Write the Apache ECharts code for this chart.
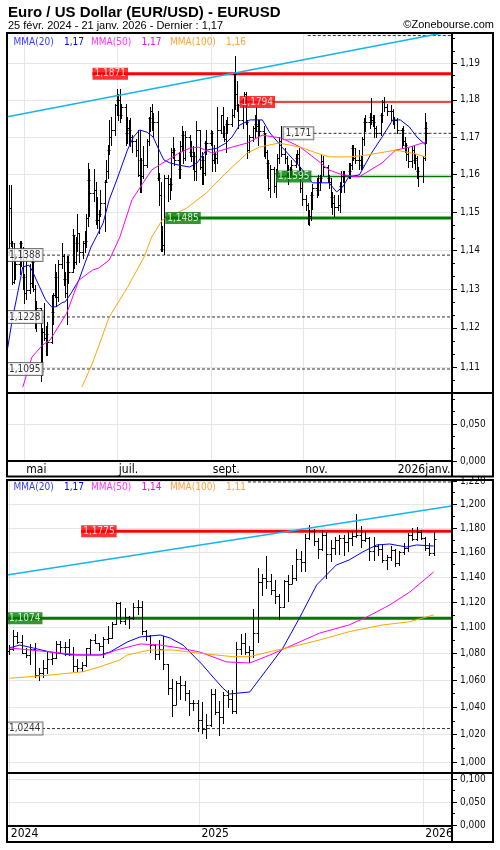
<!DOCTYPE html>
<html><head><meta charset="utf-8">
<script src="https://cdn.jsdelivr.net/npm/echarts@6/dist/echarts.min.js"></script>
<style>html,body{margin:0;padding:0;background:#fff}#c{width:500px;height:850px}</style>
</head><body><div id="c"></div>
<script>
// ---------------- texts ----------------
const titleText = 'Euro / US Dollar (EUR/USD) - EURUSD';
const subtitleText = '25 févr. 2024 - 21 janv. 2026 - Dernier : 1,17';
const sourceText = '©Zonebourse.com';
const maNames = ['MMA(20)', 'MMA(50)', 'MMA(100)'];

// ---------------- daily bars (top panel): [date, open, high, low, close] ----------------
const dailyBars = [
['2025-04-21',1.1395,1.1573,1.1389,1.1512],['2025-04-22',1.1512,1.1572,1.1412,1.1420],['2025-04-23',1.1420,1.1425,1.1312,1.1318],
['2025-04-24',1.1318,1.1420,1.1315,1.1390],['2025-04-25',1.1390,1.1392,1.1325,1.1365],['2025-04-28',1.1365,1.1425,1.1340,1.1420],
['2025-04-29',1.1420,1.1425,1.1360,1.1385],['2025-04-30',1.1385,1.1410,1.1300,1.1330],['2025-05-01',1.1330,1.1340,1.1265,1.1290],
['2025-05-02',1.1290,1.1380,1.1275,1.1297],['2025-05-05',1.1297,1.1365,1.1290,1.1315],['2025-05-06',1.1315,1.1380,1.1305,1.1370],
['2025-05-07',1.1370,1.1380,1.1295,1.1300],['2025-05-08',1.1300,1.1310,1.1200,1.1230],['2025-05-09',1.1230,1.1270,1.1192,1.1250],
['2025-05-12',1.1250,1.1250,1.1065,1.1090],['2025-05-13',1.1090,1.1200,1.1080,1.1190],['2025-05-14',1.1190,1.1265,1.1170,1.1175],
['2025-05-15',1.1175,1.1205,1.1130,1.1185],['2025-05-16',1.1185,1.1215,1.1130,1.1165],['2025-05-19',1.1165,1.1285,1.1160,1.1240],
['2025-05-20',1.1240,1.1290,1.1210,1.1285],['2025-05-21',1.1285,1.1365,1.1280,1.1330],['2025-05-22',1.1330,1.1345,1.1255,1.1280],
['2025-05-23',1.1280,1.1375,1.1270,1.1365],['2025-05-26',1.1365,1.1420,1.1355,1.1385],['2025-05-27',1.1385,1.1390,1.1310,1.1325],
['2025-05-28',1.1325,1.1345,1.1280,1.1290],['2025-05-29',1.1290,1.1385,1.1210,1.1370],['2025-05-30',1.1370,1.1385,1.1315,1.1345],
['2025-06-02',1.1345,1.1455,1.1345,1.1440],['2025-06-03',1.1440,1.1440,1.1355,1.1370],['2025-06-04',1.1370,1.1435,1.1365,1.1420],
['2025-06-05',1.1420,1.1495,1.1400,1.1445],['2025-06-06',1.1445,1.1445,1.1370,1.1395],['2025-06-09',1.1395,1.1425,1.1380,1.1420],
['2025-06-10',1.1420,1.1450,1.1395,1.1425],['2025-06-11',1.1425,1.1495,1.1410,1.1485],['2025-06-12',1.1485,1.1631,1.1465,1.1585],
['2025-06-13',1.1585,1.1615,1.1490,1.1550],['2025-06-16',1.1550,1.1615,1.1530,1.1560],['2025-06-17',1.1560,1.1580,1.1470,1.1480],
['2025-06-18',1.1480,1.1540,1.1460,1.1480],['2025-06-19',1.1480,1.1505,1.1445,1.1495],['2025-06-20',1.1495,1.1560,1.1490,1.1525],
['2025-06-23',1.1525,1.1585,1.1450,1.1580],['2025-06-24',1.1580,1.1640,1.1580,1.1610],['2025-06-25',1.1610,1.1680,1.1590,1.1665],
['2025-06-26',1.1665,1.1745,1.1655,1.1700],['2025-06-27',1.1700,1.1755,1.1680,1.1720],['2025-06-30',1.1720,1.1790,1.1705,1.1785],
['2025-07-01',1.1785,1.1830,1.1760,1.1800],['2025-07-02',1.1800,1.1815,1.1745,1.1800],['2025-07-03',1.1800,1.1830,1.1740,1.1760],
['2025-07-04',1.1760,1.1790,1.1750,1.1780],['2025-07-07',1.1780,1.1790,1.1680,1.1710],['2025-07-08',1.1710,1.1755,1.1685,1.1725],
['2025-07-09',1.1725,1.1745,1.1680,1.1720],['2025-07-10',1.1720,1.1750,1.1675,1.1700],['2025-07-11',1.1700,1.1705,1.1660,1.1690],
['2025-07-14',1.1690,1.1695,1.1650,1.1665],['2025-07-15',1.1665,1.1720,1.1595,1.1600],['2025-07-16',1.1600,1.1720,1.1555,1.1640],
['2025-07-17',1.1640,1.1645,1.1555,1.1595],['2025-07-18',1.1595,1.1675,1.1590,1.1625],['2025-07-21',1.1625,1.1695,1.1620,1.1690],
['2025-07-22',1.1690,1.1755,1.1680,1.1750],['2025-07-23',1.1750,1.1780,1.1715,1.1770],['2025-07-24',1.1770,1.1788,1.1720,1.1740],
['2025-07-25',1.1740,1.1765,1.1700,1.1740],['2025-07-28',1.1740,1.1770,1.1585,1.1590],['2025-07-29',1.1590,1.1605,1.1520,1.1545],
['2025-07-30',1.1545,1.1580,1.1400,1.1405],['2025-07-31',1.1405,1.1465,1.1400,1.1415],['2025-08-01',1.1415,1.1600,1.1392,1.1590],
['2025-08-04',1.1590,1.1598,1.1530,1.1575],['2025-08-05',1.1575,1.1590,1.1535,1.1575],['2025-08-06',1.1575,1.1670,1.1560,1.1660],
['2025-08-07',1.1660,1.1700,1.1645,1.1665],['2025-08-08',1.1665,1.1670,1.1625,1.1640],['2025-08-11',1.1640,1.1660,1.1590,1.1615],
['2025-08-12',1.1615,1.1690,1.1590,1.1675],['2025-08-13',1.1675,1.1730,1.1665,1.1705],['2025-08-14',1.1705,1.1715,1.1630,1.1645],
['2025-08-15',1.1645,1.1715,1.1640,1.1700],['2025-08-18',1.1700,1.1705,1.1650,1.1660],['2025-08-19',1.1660,1.1690,1.1635,1.1650],
['2025-08-20',1.1650,1.1675,1.1615,1.1650],['2025-08-21',1.1650,1.1660,1.1585,1.1610],['2025-08-22',1.1610,1.1743,1.1585,1.1720],
['2025-08-25',1.1720,1.1720,1.1615,1.1620],['2025-08-26',1.1620,1.1660,1.1575,1.1640],['2025-08-27',1.1640,1.1650,1.1575,1.1605],
['2025-08-28',1.1605,1.1690,1.1600,1.1685],['2025-08-29',1.1685,1.1720,1.1655,1.1685],['2025-09-01',1.1685,1.1720,1.1680,1.1710],
['2025-09-02',1.1710,1.1715,1.1610,1.1640],['2025-09-03',1.1640,1.1680,1.1630,1.1655],['2025-09-04',1.1655,1.1660,1.1610,1.1645],
['2025-09-05',1.1645,1.1780,1.1630,1.1720],['2025-09-08',1.1720,1.1760,1.1710,1.1760],['2025-09-09',1.1760,1.1780,1.1700,1.1710],
['2025-09-10',1.1710,1.1730,1.1690,1.1695],['2025-09-11',1.1695,1.1745,1.1660,1.1735],['2025-09-12',1.1735,1.1755,1.1710,1.1735],
['2025-09-15',1.1735,1.1775,1.1730,1.1760],['2025-09-16',1.1760,1.1875,1.1755,1.1870],['2025-09-17',1.1870,1.1918,1.1775,1.1815],
['2025-09-18',1.1815,1.1850,1.1770,1.1785],['2025-09-19',1.1785,1.1790,1.1725,1.1745],['2025-09-22',1.1745,1.1805,1.1725,1.1800],
['2025-09-23',1.1800,1.1820,1.1790,1.1815],['2025-09-24',1.1815,1.1820,1.1735,1.1740],['2025-09-25',1.1740,1.1745,1.1645,1.1665],
['2025-09-26',1.1665,1.1705,1.1660,1.1700],['2025-09-29',1.1700,1.1730,1.1690,1.1725],['2025-09-30',1.1725,1.1760,1.1700,1.1735],
['2025-10-01',1.1735,1.1780,1.1715,1.1730],['2025-10-02',1.1730,1.1745,1.1680,1.1715],['2025-10-03',1.1715,1.1745,1.1705,1.1715],
['2025-10-06',1.1715,1.1730,1.1650,1.1710],['2025-10-07',1.1710,1.1710,1.1645,1.1660],['2025-10-08',1.1660,1.1665,1.1590,1.1630],
['2025-10-09',1.1630,1.1640,1.1560,1.1565],['2025-10-10',1.1565,1.1625,1.1540,1.1615],['2025-10-13',1.1615,1.1620,1.1555,1.1570],
['2025-10-14',1.1570,1.1615,1.1540,1.1605],['2025-10-15',1.1605,1.1655,1.1595,1.1645],['2025-10-16',1.1645,1.1700,1.1630,1.1690],
['2025-10-17',1.1690,1.1730,1.1650,1.1655],['2025-10-20',1.1655,1.1670,1.1630,1.1645],['2025-10-21',1.1645,1.1650,1.1595,1.1600],
['2025-10-22',1.1600,1.1625,1.1575,1.1610],['2025-10-23',1.1610,1.1620,1.1590,1.1615],['2025-10-24',1.1615,1.1640,1.1600,1.1625],
['2025-10-27',1.1625,1.1655,1.1620,1.1645],['2025-10-28',1.1645,1.1665,1.1630,1.1655],['2025-10-29',1.1655,1.1670,1.1595,1.1600],
['2025-10-30',1.1600,1.1620,1.1555,1.1565],['2025-10-31',1.1565,1.1580,1.1520,1.1535],['2025-11-03',1.1535,1.1545,1.1505,1.1520],
['2025-11-04',1.1520,1.1525,1.1470,1.1485],['2025-11-05',1.1485,1.1505,1.1468,1.1490],['2025-11-06',1.1490,1.1555,1.1480,1.1545],
['2025-11-07',1.1545,1.1575,1.1510,1.1565],['2025-11-10',1.1565,1.1590,1.1540,1.1560],['2025-11-11',1.1560,1.1600,1.1545,1.1580],
['2025-11-12',1.1580,1.1600,1.1560,1.1590],['2025-11-13',1.1590,1.1655,1.1580,1.1635],['2025-11-14',1.1635,1.1650,1.1600,1.1620],
['2025-11-17',1.1620,1.1625,1.1580,1.1590],['2025-11-18',1.1590,1.1600,1.1565,1.1580],['2025-11-19',1.1580,1.1590,1.1515,1.1540],
['2025-11-20',1.1540,1.1555,1.1495,1.1525],['2025-11-21',1.1525,1.1545,1.1490,1.1515],['2025-11-24',1.1515,1.1545,1.1505,1.1520],
['2025-11-25',1.1520,1.1580,1.1500,1.1570],['2025-11-26',1.1570,1.1610,1.1555,1.1595],['2025-11-27',1.1595,1.1610,1.1580,1.1595],
['2025-11-28',1.1595,1.1610,1.1555,1.1600],['2025-12-01',1.1600,1.1630,1.1590,1.1610],['2025-12-02',1.1610,1.1630,1.1590,1.1625],
['2025-12-03',1.1625,1.1680,1.1615,1.1670],['2025-12-04',1.1670,1.1680,1.1640,1.1645],['2025-12-05',1.1645,1.1670,1.1630,1.1640],
['2025-12-08',1.1640,1.1665,1.1615,1.1640],['2025-12-09',1.1640,1.1650,1.1615,1.1625],['2025-12-10',1.1625,1.1700,1.1615,1.1695],
['2025-12-11',1.1695,1.1750,1.1680,1.1740],['2025-12-12',1.1740,1.1760,1.1715,1.1740],['2025-12-15',1.1740,1.1765,1.1725,1.1755],
['2025-12-16',1.1755,1.1805,1.1735,1.1745],['2025-12-17',1.1745,1.1760,1.1730,1.1740],['2025-12-18',1.1740,1.1760,1.1700,1.1725],
['2025-12-19',1.1725,1.1730,1.1700,1.1710],['2025-12-22',1.1710,1.1765,1.1705,1.1760],['2025-12-23',1.1760,1.1800,1.1740,1.1795],
['2025-12-24',1.1795,1.1808,1.1770,1.1780],['2025-12-26',1.1780,1.1790,1.1760,1.1770],['2025-12-29',1.1770,1.1785,1.1745,1.1770],
['2025-12-30',1.1770,1.1775,1.1735,1.1745],['2025-12-31',1.1745,1.1755,1.1725,1.1745],['2026-01-02',1.1745,1.1750,1.1710,1.1720],
['2026-01-05',1.1720,1.1725,1.1670,1.1720],['2026-01-06',1.1720,1.1730,1.1680,1.1690],['2026-01-07',1.1690,1.1700,1.1660,1.1680],
['2026-01-08',1.1680,1.1685,1.1640,1.1655],['2026-01-09',1.1655,1.1670,1.1620,1.1635],['2026-01-12',1.1635,1.1675,1.1620,1.1665],
['2026-01-13',1.1665,1.1675,1.1630,1.1640],['2026-01-14',1.1640,1.1655,1.1615,1.1645],['2026-01-15',1.1645,1.1650,1.1590,1.1610],
['2026-01-16',1.1610,1.1620,1.1570,1.1595],['2026-01-19',1.1595,1.1650,1.1580,1.1645],['2026-01-20',1.1645,1.1765,1.1640,1.1725],
['2026-01-21',1.1725,1.1740,1.1685,1.1710]
];

// ---------------- weekly bars (bottom panel): [week date, open, high, low, close] ----------------
const weeklyBars = [
['2024-02-25',1.0820,1.0865,1.0795,1.0838],['2024-03-03',1.0838,1.0981,1.0830,1.0938],['2024-03-10',1.0938,1.0964,1.0880,1.0890],
['2024-03-17',1.0890,1.0942,1.0802,1.0808],['2024-03-24',1.0808,1.0842,1.0776,1.0790],['2024-03-31',1.0790,1.0876,1.0724,1.0836],
['2024-04-07',1.0836,1.0885,1.0622,1.0642],['2024-04-14',1.0642,1.0690,1.0601,1.0655],['2024-04-21',1.0655,1.0752,1.0624,1.0694],
['2024-04-28',1.0694,1.0812,1.0650,1.0761],['2024-05-05',1.0761,1.0812,1.0724,1.0770],['2024-05-12',1.0770,1.0895,1.0765,1.0870],
['2024-05-19',1.0870,1.0895,1.0805,1.0847],['2024-05-26',1.0847,1.0889,1.0788,1.0848],['2024-06-02',1.0848,1.0916,1.0790,1.0801],
['2024-06-09',1.0801,1.0852,1.0668,1.0703],['2024-06-16',1.0703,1.0761,1.0672,1.0692],['2024-06-23',1.0692,1.0733,1.0666,1.0713],
['2024-06-30',1.0713,1.0844,1.0710,1.0840],['2024-07-07',1.0840,1.0910,1.0800,1.0908],['2024-07-14',1.0908,1.0948,1.0880,1.0882],
['2024-07-21',1.0882,1.0885,1.0825,1.0855],['2024-07-28',1.0855,1.0926,1.0777,1.0910],['2024-08-04',1.0910,1.1009,1.0880,1.0917],
['2024-08-11',1.0917,1.1047,1.0920,1.1028],['2024-08-18',1.1028,1.1202,1.1030,1.1192],['2024-08-25',1.1192,1.1201,1.1040,1.1048],
['2024-09-01',1.1048,1.1155,1.1025,1.1084],['2024-09-08',1.1084,1.1090,1.1001,1.1076],['2024-09-15',1.1076,1.1190,1.1069,1.1163],
['2024-09-22',1.1163,1.1214,1.1105,1.1164],['2024-09-29',1.1164,1.1209,1.0950,1.0975],['2024-10-06',1.0975,1.0985,1.0905,1.0937],
['2024-10-13',1.0937,1.0942,1.0811,1.0867],['2024-10-20',1.0867,1.0872,1.0761,1.0797],['2024-10-27',1.0797,1.0905,1.0760,1.0833],
['2024-11-03',1.0833,1.0937,1.0683,1.0719],['2024-11-10',1.0719,1.0723,1.0496,1.0540],['2024-11-17',1.0540,1.0610,1.0332,1.0418],
['2024-11-24',1.0418,1.0597,1.0425,1.0577],['2024-12-01',1.0577,1.0630,1.0460,1.0566],['2024-12-08',1.0566,1.0595,1.0450,1.0502],
['2024-12-15',1.0502,1.0530,1.0343,1.0430],['2024-12-22',1.0430,1.0456,1.0380,1.0428],['2024-12-29',1.0428,1.0456,1.0226,1.0308],
['2025-01-05',1.0308,1.0437,1.0215,1.0243],['2025-01-12',1.0243,1.0353,1.0178,1.0272],['2025-01-19',1.0272,1.0533,1.0265,1.0494],
['2025-01-26',1.0494,1.0533,1.0350,1.0362],['2025-02-02',1.0362,1.0442,1.0195,1.0328],['2025-02-09',1.0328,1.0513,1.0285,1.0493],
['2025-02-16',1.0493,1.0528,1.0400,1.0459],['2025-02-23',1.0459,1.0529,1.0360,1.0375],['2025-03-02',1.0375,1.0888,1.0360,1.0833],
['2025-03-09',1.0833,1.0947,1.0800,1.0880],['2025-03-16',1.0880,1.0955,1.0797,1.0816],['2025-03-23',1.0816,1.0860,1.0733,1.0830],
['2025-03-30',1.0830,1.1147,1.0778,1.0960],['2025-04-06',1.0960,1.1474,1.0888,1.1360],['2025-04-13',1.1360,1.1425,1.1260,1.1395],
['2025-04-20',1.1395,1.1573,1.1310,1.1365],['2025-04-27',1.1365,1.1425,1.1265,1.1297],['2025-05-04',1.1297,1.1380,1.1192,1.1250],
['2025-05-11',1.1250,1.1265,1.1065,1.1165],['2025-05-18',1.1165,1.1375,1.1160,1.1365],['2025-05-25',1.1365,1.1420,1.1210,1.1345],
['2025-06-01',1.1345,1.1495,1.1355,1.1395],['2025-06-08',1.1395,1.1631,1.1375,1.1550],['2025-06-15',1.1550,1.1615,1.1445,1.1525],
['2025-06-22',1.1525,1.1754,1.1450,1.1720],['2025-06-29',1.1720,1.1830,1.1710,1.1780],['2025-07-06',1.1780,1.1790,1.1660,1.1690],
['2025-07-13',1.1690,1.1720,1.1555,1.1625],['2025-07-20',1.1625,1.1788,1.1620,1.1740],['2025-07-27',1.1740,1.1770,1.1392,1.1590],
['2025-08-03',1.1590,1.1700,1.1530,1.1640],['2025-08-10',1.1640,1.1730,1.1590,1.1700],['2025-08-17',1.1700,1.1743,1.1585,1.1720],
['2025-08-24',1.1720,1.1740,1.1575,1.1685],['2025-08-31',1.1685,1.1780,1.1610,1.1720],['2025-09-07',1.1720,1.1780,1.1660,1.1735],
['2025-09-14',1.1735,1.1918,1.1730,1.1745],['2025-09-21',1.1745,1.1820,1.1645,1.1700],['2025-09-28',1.1700,1.1780,1.1690,1.1715],
['2025-10-05',1.1715,1.1730,1.1540,1.1615],['2025-10-12',1.1615,1.1730,1.1540,1.1655],['2025-10-19',1.1655,1.1670,1.1575,1.1625],
['2025-10-26',1.1625,1.1670,1.1520,1.1535],['2025-11-02',1.1535,1.1575,1.1468,1.1565],['2025-11-09',1.1565,1.1655,1.1540,1.1620],
['2025-11-16',1.1620,1.1625,1.1490,1.1515],['2025-11-23',1.1515,1.1610,1.1500,1.1600],['2025-11-30',1.1600,1.1680,1.1590,1.1640],
['2025-12-07',1.1640,1.1760,1.1615,1.1740],['2025-12-14',1.1740,1.1805,1.1700,1.1710],['2025-12-21',1.1710,1.1808,1.1705,1.1770],
['2025-12-28',1.1770,1.1785,1.1710,1.1720],['2026-01-04',1.1720,1.1730,1.1620,1.1635],['2026-01-11',1.1635,1.1675,1.1575,1.1595],
['2026-01-18',1.1595,1.1765,1.1580,1.1710]
];

// ---------------- moving averages: [date, value] ----------------
const topMA20 = [['2025-04-20',1.1148],['2025-04-23',1.1220],['2025-04-27',1.1297],['2025-04-30',1.1357],['2025-05-04',1.1362],['2025-05-06',1.1349],
['2025-05-11',1.1306],['2025-05-15',1.1272],['2025-05-19',1.1254],['2025-05-22',1.1254],['2025-05-26',1.1265],['2025-05-28',1.1267],['2025-06-01',1.1290],
['2025-06-06',1.1323],['2025-06-10',1.1367],['2025-06-14',1.1409],['2025-06-18',1.1440],['2025-06-22',1.1472],['2025-06-26',1.1533],['2025-07-01',1.1586],
['2025-07-08',1.1665],['2025-07-12',1.1700],['2025-07-16',1.1719],['2025-07-21',1.1713],['2025-07-25',1.1700],['2025-07-28',1.1673],['2025-08-01',1.1639],
['2025-08-05',1.1631],['2025-08-11',1.1625],['2025-08-18',1.1620],['2025-08-23',1.1631],['2025-08-29',1.1665],['2025-09-05',1.1670],['2025-09-11',1.1684],
['2025-09-15',1.1700],['2025-09-20',1.1732],['2025-09-27',1.1746],['2025-10-05',1.1746],['2025-10-10',1.1711],['2025-10-18',1.1673],['2025-10-30',1.1620],
['2025-11-07',1.1578],['2025-11-18',1.1578],['2025-11-23',1.1554],['2025-11-27',1.1567],['2025-12-01',1.1594],['2025-12-08',1.1599],['2025-12-16',1.1657],
['2025-12-23',1.1700],['2025-12-30',1.1746],['2026-01-04',1.1746],['2026-01-10',1.1727],['2026-01-15',1.1700],['2026-01-21',1.1678]];
const topMA50 = [['2025-04-30',1.1049],['2025-05-06',1.1125],['2025-05-13',1.1156],['2025-05-18',1.1169],['2025-05-29',1.1238],['2025-06-06',1.1323],
['2025-06-15',1.1349],['2025-06-19',1.1354],['2025-06-26',1.1375],['2025-07-03',1.1435],['2025-07-11',1.1533],['2025-07-24',1.1612],['2025-07-29',1.1625],
['2025-08-11',1.1657],['2025-08-18',1.1670],['2025-08-24',1.1673],['2025-09-02',1.1657],['2025-09-15',1.1673],['2025-09-25',1.1684],['2025-10-05',1.1705],
['2025-10-18',1.1697],['2025-10-30',1.1673],['2025-11-10',1.1639],['2025-11-18',1.1612],['2025-11-27',1.1599],['2025-12-08',1.1594],['2025-12-23',1.1631],
['2026-01-01',1.1665],['2026-01-10',1.1673],['2026-01-21',1.1687]];
const topMA100 = [['2025-06-08',1.1049],['2025-06-15',1.1110],['2025-06-26',1.1228],['2025-07-08',1.1304],['2025-07-19',1.1383],['2025-07-24',1.1435],
['2025-07-31',1.1480],['2025-08-16',1.1511],['2025-08-29',1.1551],['2025-09-11',1.1604],['2025-09-25',1.1657],['2025-10-03',1.1673],['2025-10-16',1.1684],
['2025-10-30',1.1673],['2025-11-10',1.1657],['2025-11-18',1.1647],['2025-12-02',1.1647],['2025-12-13',1.1652],['2026-01-01',1.1665],['2026-01-12',1.1657],
['2026-01-21',1.1647]];

const botMA20 = [['2024-02-25',1.0843],['2024-03-14',1.0866],['2024-04-05',1.0843],['2024-05-02',1.0813],['2024-06-04',1.0790],['2024-07-23',1.0790],
['2024-08-08',1.0813],['2024-09-05',1.0889],['2024-09-26',1.0928],['2024-10-29',1.0943],['2024-11-14',1.0920],['2024-12-05',1.0866],['2024-12-21',1.0790],
['2025-01-06',1.0714],['2025-01-23',1.0623],['2025-02-08',1.0541],['2025-02-19',1.0497],['2025-03-24',1.0512],['2025-04-14',1.0639],['2025-05-17',1.0843],
['2025-06-13',1.1075],['2025-07-11',1.1336],['2025-08-12',1.1497],['2025-09-02',1.1538],['2025-09-24',1.1603],['2025-10-17',1.1661],['2025-11-07',1.1669],
['2025-12-05',1.1644],['2025-12-21',1.1661],['2026-01-18',1.1652]];
const botMA50 = [['2024-02-27',1.0843],['2024-05-02',1.0813],['2024-06-20',1.0790],['2024-07-28',1.0790],['2024-08-19',1.0828],['2024-09-26',1.0874],
['2024-10-29',1.0866],['2024-11-30',1.0843],['2025-01-01',1.0813],['2025-02-14',1.0737],['2025-03-24',1.0729],['2025-04-26',1.0790],['2025-06-13',1.0889],
['2025-07-16',1.0958],['2025-09-02',1.1021],['2025-10-01',1.1083],['2025-11-07',1.1177],['2025-12-10',1.1280],['2026-01-18',1.1441]];
const botMA100 = [['2024-02-27',1.0614],['2024-05-02',1.0638],['2024-06-25',1.0663],['2024-07-23',1.0701],['2024-08-24',1.0752],['2024-09-05',1.0790],
['2024-10-12',1.0828],['2024-11-19',1.0828],['2025-01-01',1.0803],['2025-02-24',1.0777],['2025-03-24',1.0777],['2025-04-26',1.0815],['2025-06-13',1.0866],
['2025-07-16',1.0905],['2025-09-02',1.0969],['2025-10-27',1.1021],['2025-12-10',1.1046],['2026-01-18',1.1099]];

// ---------------- trend lines: [date, value] ----------------
const topTrend = [['2025-04-19',1.1754],['2026-02-01',1.1982]];
const botTrend = [['2024-02-22',1.1416],['2026-02-16',1.1986]];

// ---------------- horizontal levels ----------------
const topLevelValues = [1.1871, 1.1794, 1.171, 1.1595, 1.1485, 1.1388, 1.1228, 1.1095, 1.1975];
const topLevelStarts = ['2025-06-15','2025-09-20','2025-10-19','2025-10-14','2025-08-02', null, null, null, '2025-11-04'];
const botLevelValues = [1.1775, 1.1074, 1.0244, 1.2191];
const botLevelStarts = ['2024-06-22', null, null, '2025-03-21'];

// ---------------- axis ticks / labels ----------------
const topPriceTicks = [1.11,1.12,1.13,1.14,1.15,1.16,1.17,1.18,1.19];
const botPriceTicks = [1.00,1.02,1.04,1.06,1.08,1.10,1.12,1.14,1.16,1.18,1.20,1.22];
const topVolTicks = [0, 0.05];
const botVolTicks = [0, 0.05, 0.10];
const topTickDates = ['2025-05-01','2025-07-01','2025-09-01','2025-11-01','2026-01-01'];
const topTickLabels = ['mai','juil.','sept.','nov.','2026janv.'];
const botTickDates = ['2024-02-25','2025-01-01','2026-01-01'];
const botTickLabels = ['2024','2025','2026'];

// ================= build =================
const T = s => { const p = s.split('-').map(Number); return new Date(p[0], p[1]-1, p[2]).getTime(); };
const H = 3600e3;
const topXMin = T('2025-04-19') + 14*H, topXMax = T('2026-02-07') + 3*H;
const botXMin = T('2024-02-22') + 1*H, botXMax = T('2026-02-16') + 19*H;
const topYMin = 1.10342, topYMax = 1.1982;
const botYMin = 0.99276, botYMax = 1.2208;
const comma = s => String(s).replace('.', ',');
const minorBetween = (ticks, n) => { const r = []; const st = ticks[1]-ticks[0]; for (let i = -1; i < ticks.length; i++) { const a = i < 0 ? ticks[0]-st : ticks[i]; for (let k = 1; k < n; k++) r.push(a + st*k/n); } return r; };

const FONT = "'DejaVu Sans Condensed','DejaVu Sans',sans-serif";
const GRID_C = '#e6e6e6';

const grids = [
  {left:7, top:33, width:445, height:360},
  {left:7, top:393, width:445, height:68},
  {left:7, top:480, width:445, height:293},
  {left:7, top:773, width:445, height:52}
];

function xAx(gi, min, max, dates, labels, showLabels) {
  const vals = dates.map(T);
  return { type:'value', gridIndex:gi, min, max, scale:true,
    axisLine:{show:false}, axisTick:{show:false, customValues: vals},
    axisLabel:{show: showLabels, customValues: vals, align:'left', margin:3, padding:[0,0,0,2],
      fontFamily:FONT, fontSize:12, color:'#000',
      formatter: v => { let bi = 0, bd = Infinity; vals.forEach((t,i)=>{ const d = Math.abs(t - v); if (d < bd) { bd = d; bi = i; } }); return labels[bi]; } },
    splitLine:{show:true, lineStyle:{color:GRID_C, width:1}} };
}
function priceAxes(gi, lo, hi, majors, nMinor, dec) {
  const L0 = Math.log(lo), L1 = Math.log(hi);
  const maj = majors.map(Math.log);
  const mins = minorBetween(majors, nMinor).map(Math.log);
  return [
    { type:'log', gridIndex:gi, min:lo, max:hi, show:false },
    { type:'value', gridIndex:gi, position:'right', min:L0, max:L1,
      axisLine:{show:false},
      axisTick:{show:true, customValues:maj, length:5, lineStyle:{color:'#000', width:1}},
      axisLabel:{customValues:maj, margin:8, color:'#111', fontFamily:FONT, fontSize:10,
        formatter: v => comma(Math.exp(v).toFixed(dec))},
      splitLine:{show:true, lineStyle:{color:GRID_C, width:1}} },
    { type:'value', gridIndex:gi, position:'right', min:L0, max:L1,
      axisLine:{show:false},
      axisTick:{show:true, customValues:mins, length:3, lineStyle:{color:'#000', width:1}},
      axisLabel:{show:false}, splitLine:{show:false} }
  ];
}
function volAxis(gi, max, ticks, nMinor) {
  return { type:'value', gridIndex:gi, position:'right', min:0, max, interval:0.05,
    axisLine:{show:false},
    axisTick:{show:true, length:5, lineStyle:{color:'#000'}},
    minorTick:{show:true, splitNumber:nMinor, length:3, lineStyle:{color:'#000'}},
    axisLabel:{customValues:ticks, margin:8, color:'#111', fontFamily:FONT, fontSize:10,
      formatter: v => comma(v.toFixed(3))},
    splitLine:{show:true, lineStyle:{color:GRID_C, width:1}} };
}

const xAxis = [
  xAx(0, topXMin, topXMax, topTickDates, topTickLabels, false),
  xAx(1, topXMin, topXMax, topTickDates, topTickLabels, true),
  xAx(2, botXMin, botXMax, botTickDates, botTickLabels, false),
  xAx(3, botXMin, botXMax, botTickDates, botTickLabels, true)
];
const yAxis = [
  ...priceAxes(0, topYMin, topYMax, topPriceTicks, 3, 2),   // 0,1,2
  volAxis(1, 0.0919, topVolTicks, 3),                       // 3
  ...priceAxes(2, botYMin, botYMax, botPriceTicks, 2, 3),   // 4,5,6
  volAxis(3, 0.1138, botVolTicks, 2)                        // 7
];

function ohlcRender(tick) {
  return function (params, api) {
    const t = api.value(0);
    const o = api.coord([t, api.value(1)]), h = api.coord([t, api.value(2)]);
    const l = api.coord([t, api.value(3)]), c = api.coord([t, api.value(4)]);
    const x = Math.round(o[0]) + 0.5;
    const yo = Math.round(o[1]) + 0.5, yc = Math.round(c[1]) + 0.5;
    const st = {stroke:'#000', lineWidth:1};
    return { type:'group', children:[
      {type:'line', shape:{x1:x, y1:Math.round(h[1]), x2:x, y2:Math.round(l[1])+1}, style:st},
      {type:'line', shape:{x1:x-tick, y1:yo, x2:x, y2:yo}, style:st},
      {type:'line', shape:{x1:x, y1:yc, x2:x+tick, y2:yc}, style:st}
    ]};
  };
}
const toTS = arr => arr.map(r => [T(r[0]), ...r.slice(1)]);

const series = [];
function addPanel(xi, yi, bars, tick, mas, trend, lvVals, lvStarts, lvKinds, xMin, xMax) {
  lvVals.forEach((v, i) => {
    const k = lvKinds[i];
    const start = lvStarts[i] ? T(lvStarts[i]) : xMin;
    const ls = k === 'redThick' ? {color:'#ff0000', width:3} :
               k === 'red' ? {color:'#ff0000', width:1.5} :
               k === 'greenThick' ? {color:'#007a00', width:3} :
               k === 'green' ? {color:'#007a00', width:1.5} :
               {color:'#333', width:1, type:[3,2]};
    series.push({ type:'line', xAxisIndex:xi, yAxisIndex:yi, data:[[start, v],[xMax, v]],
      symbol:'none', lineStyle:ls, z:2, silent:true });
    if (k !== 'dashHidden') {
      const isRed = k.startsWith('red'), isGreen = k.startsWith('green');
      series.push({ type:'scatter', xAxisIndex:xi, yAxisIndex:yi, data:[[start, v]], symbolSize:0, clip:false,
        itemStyle:{color:'rgba(0,0,0,0)'}, z:20, silent:true,
        label:{show:true, position:'right', distance:0, formatter: () => comma(v),
          fontFamily:FONT, fontSize:10, lineHeight:10,
          color: (isRed || isGreen) ? '#fff' : '#000',
          backgroundColor: isRed ? '#ff0000' : isGreen ? '#007a00' : '#ffffff',
          borderColor: (isRed || isGreen) ? 'transparent' : '#555', borderWidth: (isRed || isGreen) ? 0 : 1,
          padding:[1,2,1,2]} });
    }
  });
  series.push({ type:'line', xAxisIndex:xi, yAxisIndex:yi, data: toTS(trend), symbol:'none',
    lineStyle:{color:'#14b4ec', width:1.5}, z:5, silent:true });
  series.push({ type:'custom', xAxisIndex:xi, yAxisIndex:yi, data: toTS(bars), renderItem: ohlcRender(tick),
    encode:{x:0, y:[1,2,3,4]}, z:3, silent:true });
  const colors = ['#0000ff', '#ff00ff', '#ffa500'];
  mas.forEach((m, i) => series.push({ type:'line', xAxisIndex:xi, yAxisIndex:yi, data: toTS(m), symbol:'none',
    lineStyle:{color:colors[i], width:1}, z:4, silent:true }));
}
addPanel(0, 0, dailyBars, 2, [topMA20, topMA50, topMA100], topTrend, topLevelValues, topLevelStarts,
  ['redThick','red','dash','green','greenThick','dash','dash','dash','dashHidden'], topXMin, topXMax);
addPanel(2, 4, weeklyBars, 2, [botMA20, botMA50, botMA100], botTrend, botLevelValues, botLevelStarts,
  ['redThick','greenThick','dash','dashHidden'], botXMin, botXMax);

// ---------------- graphic: frames & texts ----------------
const G = [];
function txt(x, y, text, font, fill, align) {
  G.push({type:'text', x, y, z:100, silent:true,
    style:{text, font, fill, textAlign:align||'left', textVerticalAlign:'middle', align:align||'left', verticalAlign:'middle'}});
}
function ln(x1, y1, x2, y2) { G.push({type:'line', z:100, silent:true, shape:{x1,y1,x2,y2}, style:{stroke:'#000', lineWidth:2}}); }
function box(x, y, w, h) { G.push({type:'rect', z:100, silent:true, shape:{x, y, width:w, height:h}, style:{fill:'transparent', stroke:'#000', lineWidth:2}}); }

txt(8, 13, titleText, "bold 15px 'Liberation Sans', Arial, sans-serif", '#000');
txt(8, 25.5, subtitleText, "11px 'Liberation Sans', Arial, sans-serif", '#000');
txt(494, 24.5, sourceText, "11px 'Liberation Sans', Arial, sans-serif", '#000', 'right');

box(7, 33, 486, 443.5);
ln(452, 33, 452, 476.5);
ln(7, 393, 493, 393);
ln(7, 461, 452, 461);
box(7, 480, 486, 362);
ln(452, 480, 452, 842);
ln(7, 773, 493, 773);
ln(7, 826, 452, 826);

const legX = [[13.5, 64], [91, 141.5], [170, 226]];
const legColors = [['#3a3aff','#0000ff'], ['#ff33ff','#ff00ff'], ['#ffa040','#ffa040']];
const legFont = "10px 'DejaVu Sans Condensed','DejaVu Sans',sans-serif";
[[topMA20, topMA50, topMA100, 42], [botMA20, botMA50, botMA100, 487.5]].forEach(p => {
  for (let i = 0; i < 3; i++) {
    txt(legX[i][0], p[3], maNames[i], legFont, legColors[i][0]);
    txt(legX[i][1], p[3], comma(p[i][p[i].length-1][1].toFixed(2)), legFont, legColors[i][1]);
  }
});

const chart = echarts.init(document.getElementById('c'), null, {renderer:'canvas'});
chart.setOption({ animation:false, backgroundColor:'#fff', grid:grids, xAxis, yAxis, series, graphic:G });
</script></body></html>
